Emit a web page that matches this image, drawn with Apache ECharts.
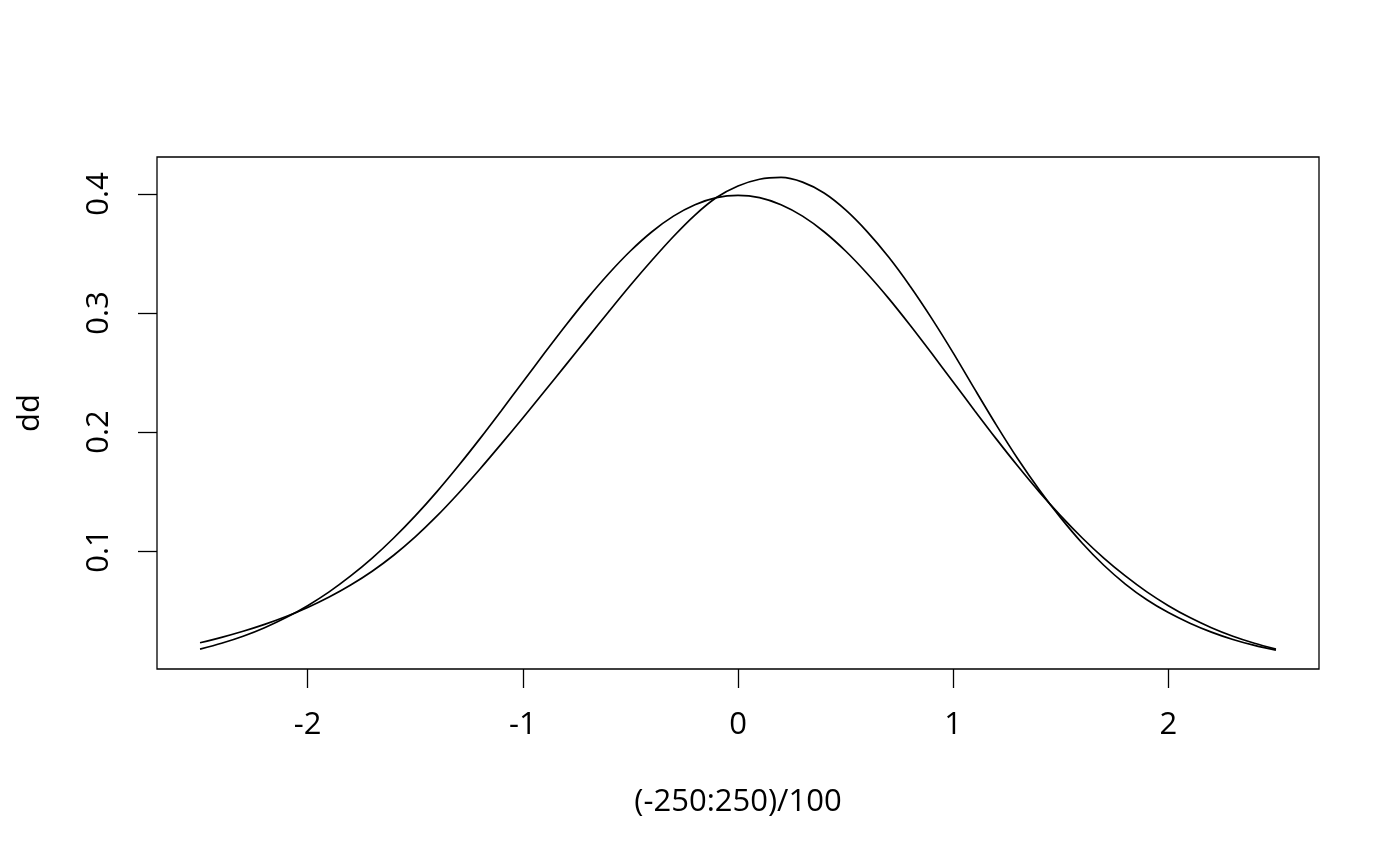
<!DOCTYPE html>
<html>
<head>
<meta charset="utf-8">
<script src="https://cdn.jsdelivr.net/npm/echarts@6/dist/echarts.min.js"></script>
<style>
  html, body { margin: 0; padding: 0; background: #ffffff; }
  #chart { width: 1400px; height: 866px; }
</style>
</head>
<body>
<div id="chart"></div>
<script>
// x grid: (-250:250)/100 sampled every 0.1
const xValues = [-2.5,-2.4,-2.3,-2.2,-2.1,-2.0,-1.9,-1.8,-1.7,-1.6,-1.5,-1.4,-1.3,-1.2,-1.1,-1.0,-0.9,-0.8,-0.7,-0.6,-0.5,-0.4,-0.3,-0.2,-0.1,0.0,0.1,0.2,0.3,0.4,0.5,0.6,0.7,0.8,0.9,1.0,1.1,1.2,1.3,1.4,1.5,1.6,1.7,1.8,1.9,2.0,2.1,2.2,2.3,2.4,2.5];
// first column of dd (symmetric bell curve)
const ddCol1 = [0.0175,0.0224,0.0283,0.0355,0.0440,0.0540,0.0656,0.0790,0.0940,0.1109,0.1295,0.1497,0.1714,0.1942,0.2179,0.2420,0.2661,0.2897,0.3123,0.3332,0.3521,0.3683,0.3814,0.3910,0.3970,0.3989,0.3970,0.3910,0.3814,0.3683,0.3521,0.3332,0.3123,0.2897,0.2661,0.2420,0.2179,0.1942,0.1714,0.1497,0.1295,0.1109,0.0940,0.0790,0.0656,0.0540,0.0440,0.0355,0.0283,0.0224,0.0175];
// second column of dd (skewed curve)
const ddCol2 = [0.0229,0.0274,0.0325,0.0383,0.0449,0.0525,0.0613,0.0714,0.0830,0.0964,0.1118,0.1292,0.1483,0.1687,0.1900,0.2118,0.2340,0.2564,0.2789,0.3013,0.3233,0.3443,0.3643,0.3823,0.3970,0.4067,0.4124,0.4139,0.4100,0.4008,0.3866,0.3684,0.3470,0.3225,0.2955,0.2665,0.2360,0.2060,0.1775,0.1515,0.1278,0.1065,0.0880,0.0722,0.0590,0.0482,0.0393,0.0318,0.0256,0.0206,0.0166];
const xTicks = [-2, -1, 0, 1, 2];
const yTicks = [0.1, 0.2, 0.3, 0.4];

const FONT = 'Open Sans';
const FS = 31;
const chart = echarts.init(document.getElementById('chart'), null, { renderer: 'canvas' });

function pairs(ys) { return xValues.map((x, i) => [x, ys[i]]); }

const lineStyle = { color: '#000', width: 1.7 };

chart.setOption({
  animation: false,
  backgroundColor: '#ffffff',
  grid: {
    left: 157, top: 157, width: 1162, height: 512,
    show: true, borderColor: '#000', borderWidth: 1.3, backgroundColor: 'transparent'
  },
  xAxis: {
    type: 'value', min: -2.7, max: 2.7,
    name: '(-250:250)/100', nameLocation: 'middle', nameGap: 118,
    nameTextStyle: { color: '#000', fontFamily: FONT, fontSize: FS },
    axisLine: { show: false, onZero: false },
    splitLine: { show: false },
    axisTick: { show: true, length: 19, customValues: xTicks, lineStyle: { color: '#000', width: 1.3 } },
    axisLabel: { customValues: xTicks, margin: 41, color: '#000', fontFamily: FONT, fontSize: FS }
  },
  yAxis: {
    type: 'value', min: 0.0008, max: 0.4311,
    name: 'dd', nameLocation: 'middle', nameGap: 111, nameRotate: 90,
    nameTextStyle: { color: '#000', fontFamily: FONT, fontSize: FS },
    axisLine: { show: false, onZero: false },
    splitLine: { show: false },
    axisTick: { show: true, length: 19, customValues: yTicks, lineStyle: { color: '#000', width: 1.3 } },
    axisLabel: { customValues: yTicks, rotate: 90, margin: 42, color: '#000', fontFamily: FONT, fontSize: FS,
      formatter: v => v.toFixed(1) }
  },
  series: [
    { type: 'line', data: pairs(ddCol1), showSymbol: false, smooth: 0.3, lineStyle: lineStyle, silent: true },
    { type: 'line', data: pairs(ddCol2), showSymbol: false, smooth: 0.3, lineStyle: lineStyle, silent: true }
  ]
});
</script>
</body>
</html>
